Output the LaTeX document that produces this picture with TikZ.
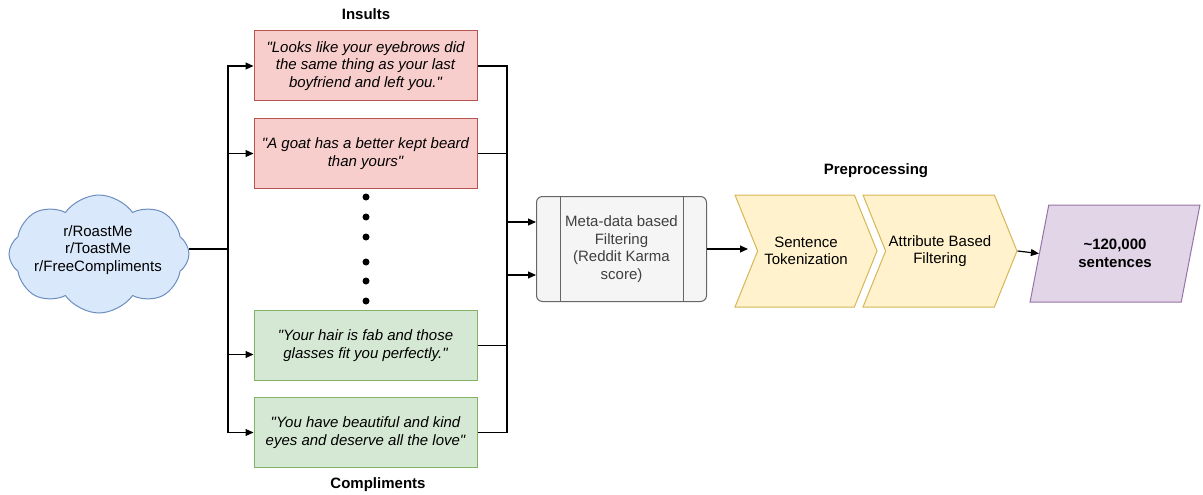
\documentclass[tikz,border=0pt]{standalone}
\usepackage{fontspec}
\setmainfont{Liberation Sans}[Ligatures=TeXOff]
\usetikzlibrary{arrows.meta,shapes.symbols,shapes.geometric,calc}
\definecolor{blueF}{HTML}{DAE8FC}\definecolor{blueD}{HTML}{6C8EBF}
\definecolor{redF}{HTML}{F8CECC}\definecolor{redD}{HTML}{B85450}
\definecolor{greenF}{HTML}{D5E8D4}\definecolor{greenD}{HTML}{82B366}
\definecolor{grayF}{HTML}{F5F5F5}\definecolor{grayD}{HTML}{666666}
\definecolor{yelF}{HTML}{FFF2CC}\definecolor{yelD}{HTML}{D6B656}
\definecolor{purF}{HTML}{E1D5E7}\definecolor{purD}{HTML}{9673A6}
\begin{document}
\begin{tikzpicture}
    [
    x=1pt, y=-1pt
    , font=\fontsize{15}{17.5}\selectfont
    , quote/.style = {draw,line width=1pt,minimum width=223pt,minimum height=70pt,align=center,font=\fontsize{15}{17.5}\selectfont\itshape}
    , insult/.style = {quote,fill=redF,draw=redD}
    , compl/.style = {quote,fill=greenF,draw=greenD}
    , dot/.style = {minimum width=7pt,inner sep=0pt,fill,circle,black}
    , title/.style = {font=\fontsize{15}{17.5}\selectfont\bfseries}
    , chev/.style = {signal,signal to=east,signal from=west,signal pointer angle=136,draw=yelD,fill=yelF,line width=1pt,minimum height=112pt,inner sep=0pt,align=center}
    , conn/.style = {line width=1.2pt}
    , arr/.style = {conn,-{Triangle[length=8pt,width=7pt]}}
    ]
\useasboundingbox (0,0) rectangle (1203,495);

% sources
\node[cloud,cloud puffs=8,cloud puff arc=110,cloud ignores aspect,draw=blueD,fill=blueF,line width=1pt,
      minimum width=180pt,minimum height=118pt,inner sep=0pt]
      (src) at (99,254) {};
\node[align=center] (srctxt) at (98,250) {r/RoastMe\\r/ToastMe\\r/FreeCompliments};

\node[title] (tins) at (366,14) {Insults};
\node[insult] (ins1) at (365.5,66) {"Looks like your eyebrows did\\the same thing as your last\\boyfriend and left you."};
\node[insult] (ins2) at (365.5,153.5) {"A goat has a better kept beard\\than yours"};

\node[dot] (d1) at (366,197) {};
\node[dot] (d2) at (366,217) {};
\node[dot] (d3) at (366,237) {};
\node[dot] (d4) at (366,262) {};
\node[dot] (d5) at (366,281) {};
\node[dot] (d6) at (366,301) {};

\node[compl] (cmp1) at (365.5,345.5) {"Your hair is fab and those\\glasses fit you perfectly."};
\node[compl] (cmp2) at (365.5,432.5) {"You have beautiful and kind\\eyes and deserve all the love"};
\node[title] (tcmp) at (378,485) {Compliments};

% filtering
\node[draw=grayD,fill=grayF,line width=1pt,rounded corners=6pt,minimum width=170pt,
      minimum height=105pt,align=center,text=black!75] (meta) at (621.5,249)
      {Meta-data based\\Filtering\\(Reddit Karma\\score)};
\draw[grayD,line width=1pt] ($(meta.north west)+(24,0)$) -- ($(meta.south west)+(24,0)$);
\draw[grayD,line width=1pt] ($(meta.north east)+(-24,0)$) -- ($(meta.south east)+(-24,0)$);

\node[title] (tpre) at (876,171) {Preprocessing};
\node[chev,minimum width=142pt] (tok) at (806,251) {Sentence\\Tokenization};
\node[chev,minimum width=154pt] (attr) at (940,251) {Attribute Based\\Filtering};

\node[trapezium,trapezium left angle=72,trapezium right angle=108,trapezium stretches=true,
      draw=purD,fill=purF,line width=1pt,minimum width=170pt,minimum height=97pt,
      align=center,font=\fontsize{15}{17.5}\selectfont\bfseries] (out) at (1115,253.5)
      {\textasciitilde120,000\\sentences};

% connectors
\coordinate (lbus) at (228,249);
\draw[conn] (src.east |- lbus) -- (lbus);
\draw[arr] (lbus) |- (ins1.west);
\draw[arr] (lbus) |- (ins2.west);
\draw[arr] (lbus) |- ($(cmp1.west)+(0,9)$);
\draw[arr] (lbus) |- (cmp2.west);

\coordinate (rin1) at (507,222);
\coordinate (rin2) at (507,275);
\draw[conn] (ins1.east) -| (rin1);
\draw[conn] (ins2.east) -| (rin1);
\draw[conn] (cmp1.east) -| (rin2);
\draw[conn] (cmp2.east) -| (rin2);
\draw[conn] (rin1) -- (rin2);
\draw[arr] (rin1) -- (rin1 -| meta.west);
\draw[arr] (rin2) -- (rin2 -| meta.west);

\draw[arr] (meta.east) -- (748,249);
\draw[arr] (attr.east) -- (out.west);
\end{tikzpicture}
\end{document}
